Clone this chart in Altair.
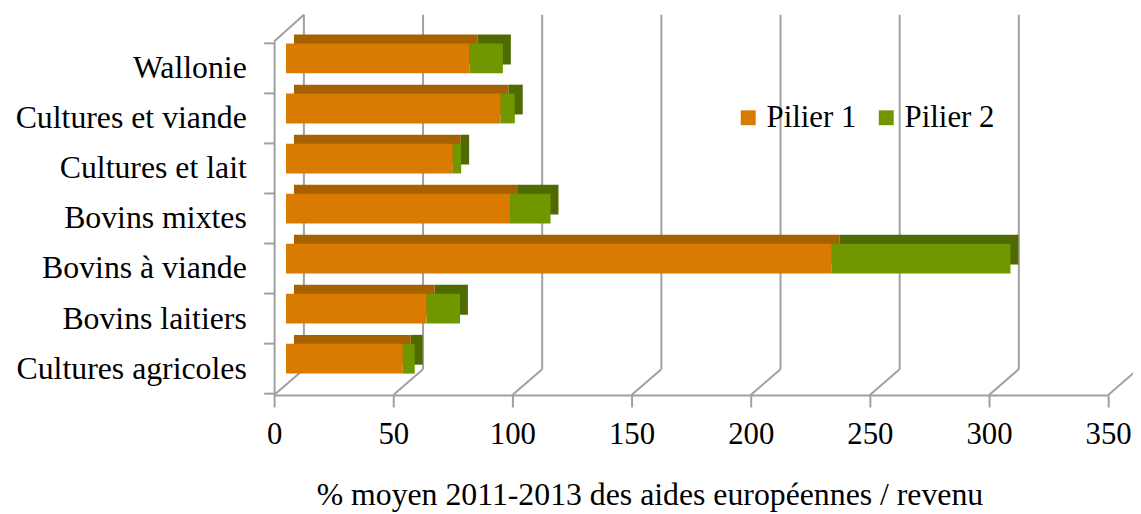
import altair as alt
import pandas as pd

categories = ["Wallonie", "Cultures et viande", "Cultures et lait", "Bovins mixtes",
              "Bovins à viande", "Bovins laitiers", "Cultures agricoles"]
pilier1 = [77, 90, 70, 94, 229, 59, 49]
pilier2 = [14, 6, 3.5, 17, 75, 14, 5]
series = ["Pilier 1", "Pilier 2"]
front_colors = ["#D97B00", "#709600"]
back_colors = ["#A66100", "#4E6A00"]
x_ticks = [0, 50, 100, 150, 200, 250, 300, 350]
axis_title = "% moyen 2011-2013 des aides européennes / revenu"

rows = []
for c, a, b in zip(categories, pilier1, pilier2):
    rows.append(dict(cat=c, serie=series[0], start=0, end=a, dark=back_colors[0]))
    rows.append(dict(cat=c, serie=series[1], start=a, end=a + b, dark=back_colors[1]))
df = pd.DataFrame(rows)
grid = pd.DataFrame({"v": x_ticks})
corner = pd.DataFrame({"v": [0]})
cats = pd.DataFrame({"cat": categories})
last_cat = pd.DataFrame({"cat": categories[-1:]})

FONT = "Liberation Serif"
GRAY = "#a0a0a0"
W, H = 840, 356

xscale = alt.Scale(domain=[0, 350], nice=False, zero=True)
yscale = alt.Scale(domain=categories, paddingInner=0.405, paddingOuter=0.234, align=0.085)

xaxis = alt.Axis(values=x_ticks, grid=False, domainColor=GRAY, domainWidth=2,
                 tickColor=GRAY, tickWidth=2, tickSize=12, labelFlush=False,
                 labelFont=FONT, labelFontSize=31, labelPadding=13, labelColor="black",
                 title=axis_title, titleFont=FONT, titleFontSize=32,
                 titleFontWeight="normal", titleColor="black",
                 titleX=378, titleY=110, titleAlign="center", titleBaseline="alphabetic")
yaxis = alt.Axis(title=None, ticks=False, domainColor=GRAY, domainWidth=2,
                 labelFont=FONT, labelFontSize=32, labelPadding=28, labelOffset=10,
                 labelColor="black", grid=False, labelLimit=400)

gridlines = alt.Chart(grid).mark_rule(xOffset=30, x2Offset=30, color=GRAY, strokeWidth=2).encode(
    x=alt.X("v:Q", scale=xscale, axis=xaxis),
    y=alt.value(-27), y2=alt.value(330))

floor = alt.Chart(grid).mark_rule(xOffset=0, x2Offset=30, color=GRAY, strokeWidth=2).encode(
    x=alt.X("v:Q", scale=xscale, axis=xaxis), x2="v:Q",
    y=alt.value(H), y2=alt.value(330))

top_corner = alt.Chart(corner).mark_rule(xOffset=0, x2Offset=30, color=GRAY, strokeWidth=2).encode(
    x=alt.X("v:Q", scale=xscale, axis=xaxis), x2="v:Q",
    y=alt.value(0), y2=alt.value(-27))

yticks = alt.Chart(cats).mark_rule(yOffset=-15.2, color=GRAY, strokeWidth=2).encode(
    y=alt.Y("cat:N", scale=yscale, sort=categories, axis=yaxis),
    x=alt.value(-10), x2=alt.value(0))

ytick_last = alt.Chart(last_cat).mark_rule(yOffset=35.2, color=GRAY, strokeWidth=2).encode(
    y=alt.Y("cat:N", scale=yscale, sort=categories, axis=yaxis),
    x=alt.value(-10), x2=alt.value(0))

back = alt.Chart(df).mark_bar(xOffset=20, x2Offset=20, yOffset=-9, y2Offset=-9).encode(
    x=alt.X("start:Q", scale=xscale, axis=xaxis), x2="end:Q",
    y=alt.Y("cat:N", scale=yscale, sort=categories, axis=yaxis),
    color=alt.Color("dark:N", scale=None))

front = alt.Chart(df).mark_bar(xOffset=12, x2Offset=12, opacity=1).encode(
    x=alt.X("start:Q", scale=xscale, axis=xaxis),
    x2="end:Q",
    y=alt.Y("cat:N", scale=yscale, sort=categories, axis=yaxis),
    color=alt.Color("serie:N", scale=alt.Scale(domain=series, range=front_colors),
                    legend=alt.Legend(title=None, orient="none", legendX=462, legendY=61,
                                      direction="horizontal", symbolType="square",
                                      symbolSize=225, symbolStrokeWidth=0, symbolOpacity=1,
                                      labelFont=FONT, labelFontSize=31, labelColor="black",
                                      columnPadding=14, labelOffset=3, labelLimit=300)))

chart = alt.layer(gridlines, floor, top_corner, yticks, ytick_last, back, front).properties(
    width=W, height=H,
    autosize=alt.AutoSizeParams(type="none"),
    padding={"left": 268, "top": 32, "right": 25, "bottom": 118},
    background="white",
).configure_view(stroke=None)

chart.save("out.html", embed_options={"renderer": "svg", "actions": False})
